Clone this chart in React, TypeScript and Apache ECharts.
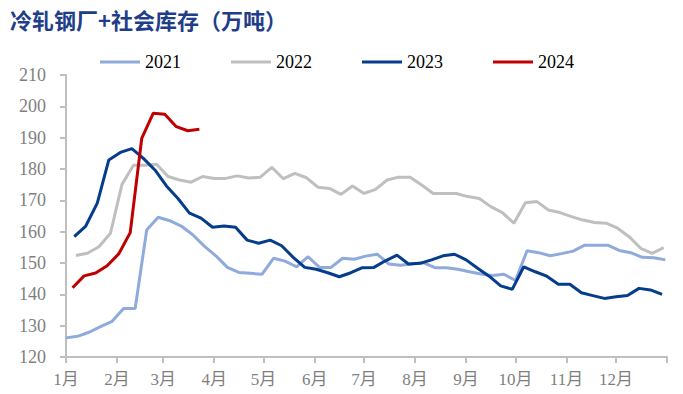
import React, { useEffect, useRef } from "react";
import * as echarts from "echarts";

// Weekly inventory (万吨), first observation date of each year
const startDates: Record<string, string> = {
  "2021": "2021-01-01",
  "2022": "2022-01-07",
  "2023": "2023-01-06",
  "2024": "2024-01-05",
};

const values2021 = [
  126.1, 126.6, 127.9, 129.7, 131.4, 135.5, 135.5, 160.5, 164.6, 163.5, 161.8, 159.0, 155.4,
  152.3, 148.6, 147.0, 146.7, 146.4, 151.5, 150.6, 148.8, 152.0, 148.6, 148.6, 151.5, 151.2,
  152.2, 152.8, 149.7, 149.3, 149.7, 150.1, 148.5, 148.5, 148.0, 147.2, 146.5, 146.0, 146.4,
  144.4, 153.9, 153.3, 152.3, 153.0, 153.8, 155.7, 155.7, 155.7, 154.0, 153.3, 151.8, 151.7, 151.0,
];

const values2022 = [
  152.4, 153.1, 155.2, 159.5, 175.1, 181.2, 181.2, 181.5, 177.6, 176.5, 175.8, 177.6, 177.0,
  177.0, 177.8, 177.1, 177.4, 180.5, 176.9, 178.6, 177.2, 174.2, 173.8, 171.9, 174.6, 172.2,
  173.5, 176.5, 177.4, 177.4, 174.9, 172.2, 172.2, 172.2, 171.2, 170.6, 168.0, 166.1, 162.7,
  169.2, 169.6, 166.9, 166.1, 164.8, 163.7, 162.9, 162.7, 161.1, 158.4, 154.7, 153.1, 154.9,
];

const values2023 = [
  158.4, 161.8, 169.1, 182.9, 185.3, 186.5, 183.4, 179.7, 174.6, 170.6, 165.9, 164.3, 161.4,
  161.8, 161.4, 157.3, 156.3, 157.3, 155.5, 151.8, 148.6, 148.0, 146.9, 145.6, 146.9, 148.5,
  148.6, 150.7, 152.5, 149.7, 149.9, 151.0, 152.3, 152.8, 151.0, 148.3, 145.8, 142.7, 141.6,
  148.8, 147.2, 145.8, 143.2, 143.2, 140.5, 139.6, 138.7, 139.2, 139.6, 141.9, 141.4, 140.0,
];

const values2024 = [142.1, 145.9, 146.8, 149.1, 152.9, 159.7, 189.8, 197.8, 197.5, 193.5, 192.2, 192.7];

const seriesNames = ["2021", "2022", "2023", "2024"];
const seriesValues = [values2021, values2022, values2023, values2024];
const seriesColors = ["#8FAADC", "#BFBFBF", "#053C8C", "#C00000"];

const monthLabels = ["1月", "2月", "3月", "4月", "5月", "6月", "7月", "8月", "9月", "10月", "11月", "12月"];
const monthStartDays = [0, 31, 59, 90, 120, 151, 181, 212, 243, 273, 304, 334, 365];

const yTicks = { min: 120, max: 210, interval: 10 };

function dayOfYear(dateStr: string): number {
  const [y, m, d] = dateStr.split("-").map(Number);
  return Math.round((Date.UTC(y, m - 1, d) - Date.UTC(y, 0, 1)) / 86400000);
}

export default function App() {
  const ref = useRef<HTMLDivElement>(null);

  useEffect(() => {
    if (!ref.current) return;
    const chart = echarts.init(ref.current, undefined, { renderer: "svg" });

    const series = seriesNames.map((name, k) => {
      const start = dayOfYear(startDates[name]);
      return {
        name,
        type: "line",
        showSymbol: false,
        symbol: "none",
        smooth: false,
        color: seriesColors[k],
        lineStyle: { width: 3, color: seriesColors[k] },
        data: seriesValues[k].map((v, i) => [start + 7 * i, v]),
        z: k === 3 ? 5 : 2 + k,
      };
    });

    chart.setOption({
      animation: false,
      backgroundColor: "#ffffff",
      title: {
        text: "冷轧钢厂+社会库存（万吨）",
        left: 5,
        top: 3,
        textStyle: {
          fontFamily: "Noto Sans CJK SC",
          fontWeight: "bold",
          fontSize: 22,
          color: "#1F3E8A",
        },
      },
      legend: {
        data: seriesNames,
        left: 95,
        top: 48,
        icon: "rect",
        itemWidth: 40,
        itemHeight: 3,
        itemGap: 50,
        textStyle: { fontFamily: "Liberation Serif", fontSize: 18, color: "#000000" },
      },
      grid: { left: 66, right: 16, top: 75, bottom: 37, containLabel: false },
      xAxis: {
        type: "value",
        min: 0,
        max: 365,
        splitLine: { show: false },
        axisLine: { show: true, lineStyle: { color: "#BFBFBF", width: 2 } },
        axisTick: {
          show: true,
          customValues: monthStartDays,
          length: 6,
          lineStyle: { color: "#BFBFBF", width: 2 },
        },
        axisLabel: {
          customValues: monthStartDays.slice(0, 12),
          formatter: (v: number) => monthLabels[monthStartDays.indexOf(v)] ?? "",
          fontFamily: "Liberation Serif, Noto Sans CJK SC",
          fontSize: 17,
          color: "#7F7F7F",
          margin: 14,
        },
      },
      yAxis: {
        type: "value",
        min: yTicks.min,
        max: yTicks.max,
        interval: yTicks.interval,
        splitLine: { show: false },
        axisLine: { show: true, lineStyle: { color: "#BFBFBF", width: 2 } },
        axisTick: { show: true, length: 6, lineStyle: { color: "#BFBFBF", width: 2 } },
        axisLabel: {
          fontFamily: "Liberation Serif",
          fontSize: 18,
          color: "#7F7F7F",
          margin: 20,
        },
      },
      series,
    });

    return () => chart.dispose();
  }, []);

  return <div ref={ref} style={{ width: 683, height: 394, position: "absolute", left: 0, top: 0 }} />;
}
